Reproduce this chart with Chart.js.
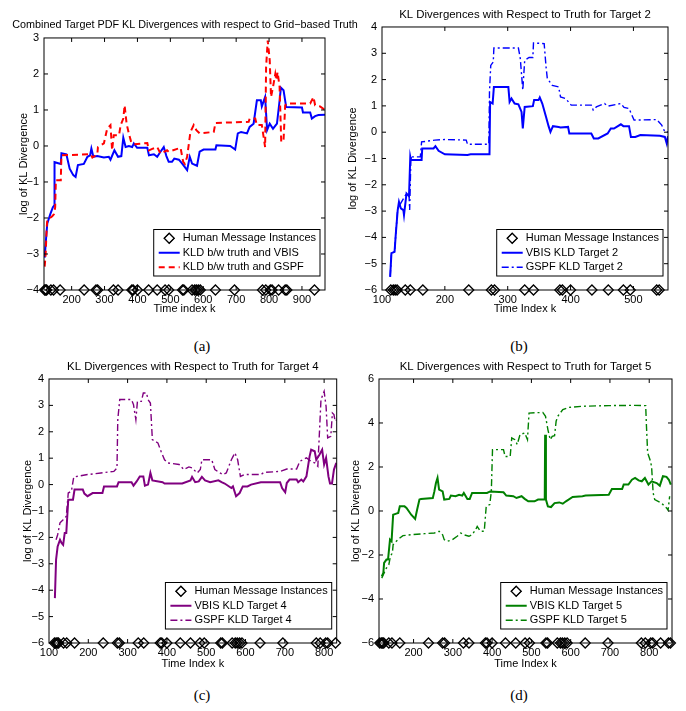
<!DOCTYPE html>
<html>
<head>
<meta charset="utf-8">
<script src="https://cdn.jsdelivr.net/npm/chart.js@4.4.1/dist/chart.umd.min.js"></script>
<style>
  body { margin: 0; background: #fff; }
  #page { position: relative; width: 686px; height: 711px; overflow: hidden; background: #fff; }
  #page canvas { position: absolute; }
  .cap { position: absolute; width: 40px; height: 18px; margin-left: -20px; margin-top: -9px; line-height: 18px; text-align: center; font-family: "Liberation Serif", "Times New Roman", serif; font-size: 15px; color: #000; }
</style>
</head>
<body>
<div id="page">
  <canvas id="chartA" width="370" height="320" style="left:0px;top:0px"></canvas>
  <canvas id="chartB" width="343" height="320" style="left:343px;top:0px"></canvas>
  <canvas id="chartC" width="343" height="320" style="left:0px;top:355px"></canvas>
  <canvas id="chartD" width="343" height="320" style="left:343px;top:355px"></canvas>
  <div class="cap" style="left:202px;top:346px">(a)</div>
  <div class="cap" style="left:519px;top:346px">(b)</div>
  <div class="cap" style="left:202px;top:695px">(c)</div>
  <div class="cap" style="left:519px;top:695px">(d)</div>
</div>
<script>
// times (k) at which a human message came in, shared by all four plots
const messageTimes = [114, 118, 121, 124, 137, 145, 165, 238, 274, 279, 327, 341, 383, 387, 400, 434, 460, 484, 495, 537, 541, 566, 574, 579, 585, 591, 637, 695, 780, 790, 804, 809, 829, 849, 854, 938];

// (a) combined target pdf
const vbisA_k = [118,122,126,136,143,147,148,167,169,184,194,205,212,219,237,248,256,260,266,278,298,313,318,330,341,351,357,364,374,384,389,399,430,435,450,460,470,480,488,495,505,512,526,536,551,559,566,581,589,601,637,640,682,697,705,715,733,741,753,763,775,778,788,794,802,812,824,831,836,844,852,900,903,925,930,940,950,970];
const vbisA_y = [-3.1,-2.6,-2.15,-1.87,-1.7,-1.65,-0.45,-0.5,-0.2,-0.23,-0.63,-0.81,-0.86,-0.53,-0.5,-0.3,-0.26,-0.07,-0.3,-0.28,-0.32,-0.3,-0.38,-0.12,-0.3,-0.28,0.23,-0.03,0.0,-0.03,0.07,-0.05,-0.05,-0.26,-0.23,-0.3,-0.16,-0.03,-0.28,-0.44,-0.44,-0.35,-0.38,-0.49,-0.67,-0.3,-0.49,-0.55,-0.16,-0.1,-0.1,0.02,0.0,-0.1,0.35,0.39,0.35,0.53,0.62,1.27,1.27,1.1,1.36,0.44,0.62,0.48,0.62,1.18,1.62,1.55,1.08,1.07,0.93,0.93,0.76,0.83,0.86,0.87];
const gspfA_k = [118,121,124,126,134,141,146,150,152,167,169,258,263,278,280,298,308,318,323,328,344,349,357,361,367,374,381,389,430,435,445,460,470,490,495,521,531,539,544,551,561,571,579,589,632,637,738,741,758,763,778,788,791,796,802,806,812,819,822,826,832,837,844,849,854,925,935,940,955,970];
const gspfA_y = [-3.35,-3.0,-2.3,-2.06,-2.0,-1.95,-1.9,-1.7,-0.95,-0.95,-0.26,-0.23,-0.32,-0.23,-0.03,0.07,0.48,0.58,-0.12,0.3,0.3,0.58,0.76,1.13,0.62,0.34,0.11,0.05,0.08,-0.12,-0.08,-0.03,-0.21,-0.12,-0.16,-0.08,-0.05,-0.44,-0.5,-0.3,0.39,0.58,0.44,0.35,0.39,0.64,0.67,0.76,0.76,0.58,0.58,-0.03,2.2,2.93,2.38,1.36,1.64,2.0,1.83,2.05,1.64,0.11,0.16,1.13,1.18,1.18,1.36,1.13,1.1,1.0];

// (b) target 2
const vbisB_k = [113,115,120,122,125,127,130,134,135,139,143,145,146,163,164,182,185,190,200,236,241,271,272,276,278,301,303,306,311,317,322,324,327,340,342,349,351,355,361,365,368,372,381,384,396,398,433,437,444,459,464,469,480,484,493,496,503,511,542,550,553,555];
const vbisB_y = [-5.5,-4.6,-4.55,-3.85,-2.96,-2.65,-2.9,-2.96,-3.15,-2.33,-2.43,-0.94,-1.06,-1.06,-0.62,-0.62,-0.53,-0.71,-0.84,-0.87,-0.84,-0.84,1.15,1.09,1.72,1.72,1.15,1.28,1.09,1.06,0.77,0.14,0.96,0.99,1.22,1.22,1.32,1.09,0.58,0.23,0.01,0.23,0.2,0.18,0.2,-0.05,-0.05,-0.24,-0.24,-0.05,0.14,0.14,0.3,0.23,0.23,-0.18,-0.18,-0.11,-0.14,-0.18,-0.43,-0.15];
const gspfB_k = [113,115,120,122,125,139,143,144,146,161,163,184,200,234,236,270,271,273,277,278,317,320,324,327,334,340,341,358,361,363,371,381,384,392,401,433,436,441,454,459,480,485,493,501,537,545,550,555];
const gspfB_y = [-5.5,-4.6,-4.55,-3.85,-2.9,-2.33,-2.4,-2.96,-0.94,-0.94,-0.37,-0.3,-0.28,-0.3,-0.46,-0.46,1.53,2.54,2.67,3.2,3.2,2.8,1.6,2.73,2.84,2.84,3.39,3.37,2.48,2.04,1.78,1.72,1.34,1.28,1.03,1.03,0.84,0.96,1.09,0.99,1.09,0.94,0.9,0.46,0.48,0.27,0.01,0.01];

// (c) target 4
const vbisC_k = [115,118,122,128,132,136,140,144,149,161,165,186,190,198,211,236,240,273,277,310,315,323,331,340,344,352,358,363,389,394,439,460,464,472,481,489,497,510,531,539,547,564,568,576,585,593,605,614,639,688,693,701,705,712,730,734,742,747,755,763,767,776,780,788,795,800,805,811,815,820,825,831];
const vbisC_y = [-4.3,-2.84,-2.34,-2.09,-2.21,-2.28,-1.83,-1.83,-0.57,-0.57,-0.19,-0.19,-0.34,-0.44,-0.32,-0.32,-0.07,-0.07,0.09,0.09,-0.04,0.12,0.31,0.31,-0.04,0.0,0.44,0.16,0.09,0.04,0.04,0.16,0.29,0.09,0.12,0.29,0.16,0.09,0.16,0.09,0.04,-0.13,-0.07,-0.44,-0.32,-0.07,-0.07,0.0,0.09,0.09,-0.13,-0.29,0.06,0.19,0.19,0.09,0.19,0.12,0.31,1.07,1.32,1.26,0.94,1.13,1.32,0.76,1.01,0.31,0.04,0.04,0.57,0.82];
const gspfC_k = [118,122,128,136,144,149,157,163,198,232,265,273,275,280,310,315,321,325,335,340,348,352,358,363,377,385,394,402,431,443,456,464,477,485,489,514,522,535,543,551,564,573,580,587,597,639,647,688,705,730,738,755,767,776,784,792,800,805,809,817,821,825,828,832];
const gspfC_y = [-2.09,-1.9,-1.45,-1.33,-1.2,-0.32,-0.25,0.29,0.38,0.44,0.5,0.63,2.46,3.22,3.22,3.03,2.46,3.15,3.15,3.47,3.47,3.22,3.09,1.7,1.58,1.26,0.94,0.82,0.76,0.57,0.67,0.63,0.44,0.57,0.94,0.94,0.57,0.44,0.38,0.44,0.94,1.2,0.94,0.31,0.38,0.38,0.46,0.5,0.59,0.59,0.88,1.01,0.88,0.82,0.69,3.22,3.53,2.96,1.77,1.83,2.71,2.65,2.4,2.46];

// (d) target 5
const vbisD_k = [119,123,125,131,135,140,144,148,156,161,165,177,182,194,204,209,215,219,249,253,257,261,265,274,278,291,295,307,316,324,328,337,343,349,387,395,429,436,454,462,475,483,492,508,517,534,535,537,542,550,559,571,580,588,605,630,638,697,705,731,735,747,756,764,773,781,789,798,806,819,827,835,844,850,855];
const vbisD_y = [-2.97,-2.82,-2.36,-2.21,-2.21,-1.3,-1.38,-0.17,-0.12,-0.09,0.21,0.21,0.14,-0.17,-0.36,0.06,0.52,0.55,0.59,0.89,1.27,1.5,0.97,0.89,0.52,0.55,0.7,0.67,0.74,0.7,0.82,0.55,0.55,0.82,0.82,0.89,0.85,0.7,0.67,0.59,0.67,0.55,0.44,0.44,0.52,0.52,3.47,0.52,0.21,0.18,0.36,0.39,0.33,0.44,0.64,0.67,0.7,0.74,1.0,1.0,1.2,1.2,1.42,1.5,1.39,1.35,1.5,1.2,1.35,1.27,1.15,1.58,1.55,1.42,1.2];
const gspfD_k = [119,125,131,137,141,146,148,156,165,173,194,228,253,265,274,278,286,299,311,320,328,341,349,358,362,370,380,385,394,398,401,429,433,446,450,458,464,471,483,490,494,529,536,542,548,553,559,563,567,580,596,630,697,756,791,793,796,802,806,810,814,831,844,848,852];
const gspfD_y = [-3.05,-2.82,-2.59,-2.44,-2.06,-1.91,-1.53,-1.38,-1.23,-1.12,-1.08,-1.03,-1.0,-0.92,-1.08,-1.3,-1.38,-1.3,-1.15,-1.0,-1.08,-1.15,-1.08,-0.85,-0.7,-0.92,-0.92,0.21,0.29,0.89,2.79,2.79,2.48,2.48,3.32,3.24,3.02,3.47,3.55,3.24,4.45,4.48,4.3,3.7,3.24,3.39,3.42,4.08,4.3,4.61,4.71,4.76,4.79,4.8,4.79,3.85,2.64,2.33,2.03,0.82,0.52,0.36,0.14,0.03,0.67];

// tick labels
const xTicksA = [200, 300, 400, 500, 600, 700, 800, 900];
const yTicksA = [-4, -3, -2, -1, 0, 1, 2, 3];
const xTicksB = [100, 200, 300, 400, 500];
const yTicksB = [-6, -5, -4, -3, -2, -1, 0, 1, 2, 3, 4];
const xTicksC = [100, 200, 300, 400, 500, 600, 700, 800];
const yTicksC = [-6, -5, -4, -3, -2, -1, 0, 1, 2, 3, 4];
const xTicksD = [200, 300, 400, 500, 600, 700, 800];
const yTicksD = [-6, -4, -2, 0, 2, 4, 6];

const FONT = '"Liberation Sans", Arial, Helvetica, sans-serif';
Chart.defaults.font.family = FONT;
Chart.defaults.color = '#000';

const minusSign = v => String(v).replace('-', '\u2212');
const pts = (ks, ys) => ks.map((k, i) => ({ x: k, y: ys[i] }));

// matlab style box with inward ticks on all four sides
const frameTicks = {
    id: 'frameTicks',
    afterDatasetsDraw(chart) {
        const ctx = chart.ctx;
        const a = chart.chartArea;
        const xs = chart.scales.x, ys = chart.scales.y;
        const len = 4;
        ctx.save();
        ctx.strokeStyle = '#000';
        ctx.lineWidth = 1;
        ctx.beginPath();
        xs.ticks.forEach(t => {
            const px = xs.getPixelForValue(t.value);
            if (px <= a.left + 1 || px >= a.right - 1) return;
            ctx.moveTo(px, a.bottom); ctx.lineTo(px, a.bottom - len);
            ctx.moveTo(px, a.top); ctx.lineTo(px, a.top + len);
        });
        ys.ticks.forEach(t => {
            const py = ys.getPixelForValue(t.value);
            if (py <= a.top + 1 || py >= a.bottom - 1) return;
            ctx.moveTo(a.left, py); ctx.lineTo(a.left + len, py);
            ctx.moveTo(a.right, py); ctx.lineTo(a.right - len, py);
        });
        ctx.stroke();
        ctx.strokeRect(a.left, a.top, a.right - a.left, a.bottom - a.top);
        ctx.restore();
    }
};

// boxed legend in the lower right corner of the axes
const boxLegend = {
    id: 'boxLegend',
    afterDraw(chart, args, opts) {
        const ctx = chart.ctx;
        const a = chart.chartArea;
        const items = chart.data.datasets;
        ctx.save();
        ctx.font = '11px ' + FONT;
        const textW = Math.max(...items.map(d => ctx.measureText(d.label).width));
        const pad = 5, sample = 21, gap = 3, rowH = 14.5;
        const w = pad + sample + gap + textW + 4;
        const h = rowH * items.length + 3;
        const x = a.right - opts.right - w;
        const y = a.bottom - opts.bottom - h;
        ctx.fillStyle = '#fff';
        ctx.fillRect(x, y, w, h);
        ctx.strokeStyle = '#000';
        ctx.lineWidth = 1;
        ctx.strokeRect(x, y, w, h);
        items.forEach((d, i) => {
            const cy = y + 1.5 + rowH * (i + 0.5);
            if (d.showLine === false) {
                Chart.helpers.drawPoint(ctx, {
                    pointStyle: 'rectRot', radius: 5, borderWidth: 1.3
                }, x + pad + sample / 2, cy);
                ctx.strokeStyle = '#000';
                ctx.lineWidth = 1.3;
                ctx.stroke();
            } else {
                ctx.beginPath();
                ctx.setLineDash(d.borderDash || []);
                ctx.strokeStyle = d.borderColor;
                ctx.lineWidth = d.borderWidth;
                ctx.moveTo(x + pad, cy);
                ctx.lineTo(x + pad + sample, cy);
                ctx.stroke();
                ctx.setLineDash([]);
            }
            ctx.fillStyle = '#000';
            ctx.textBaseline = 'middle';
            ctx.fillText(d.label, x + pad + sample + gap, cy);
        });
        ctx.restore();
    }
};

function makePanel(p) {
    const marks = messageTimes
        .filter(k => k >= p.xMin && k <= p.xMax)
        .map(k => ({ x: k, y: p.yTicks[0] }));

    new Chart(document.getElementById(p.id), {
        type: 'scatter',
        data: {
            datasets: [{
                label: 'Human Message Instances',
                data: marks,
                showLine: false,
                pointStyle: 'rectRot',
                pointRadius: 5,
                pointBorderWidth: 1.3,
                pointBorderColor: '#000',
                pointBackgroundColor: 'rgba(0,0,0,0)',
                clip: false,
                order: 0
            }, {
                label: p.vbisLabel,
                data: pts(p.vbisK, p.vbisY),
                showLine: true,
                borderColor: p.vbisColor,
                borderWidth: 2,
                pointRadius: 0,
                order: 2
            }, {
                label: p.gspfLabel,
                data: pts(p.gspfK, p.gspfY),
                showLine: true,
                borderColor: p.gspfColor,
                borderWidth: p.gspfWidth,
                borderDash: p.gspfDash,
                pointRadius: 0,
                order: 1
            }]
        },
        options: {
            responsive: false,
            animation: false,
            events: [],
            layout: { padding: { left: 0, right: p.titleFull ? 0 : p.padRight, top: 0, bottom: 0 } },
            elements: { line: { tension: 0 } },
            plugins: {
                legend: { display: false },
                tooltip: { enabled: false },
                title: {
                    display: true,
                    text: p.title,
                    fullSize: !!p.titleFull,
                    color: '#000',
                    font: { size: p.titleSize, weight: 'normal' },
                    padding: p.titlePad
                },
                boxLegend: { right: 5, bottom: 14 }
            },
            scales: {
                x: {
                    type: 'linear',
                    min: p.xMin,
                    max: p.xMax,
                    afterBuildTicks: s => { s.ticks = p.xTicks.map(v => ({ value: v })); },
                    afterFit: s => { s.height = p.xAxisH; },
                    grid: { display: false, drawTicks: false },
                    border: { display: false },
                    ticks: { padding: 3, maxRotation: 0, autoSkip: false, font: { size: 11 }, color: '#000' },
                    title: {
                        display: true, text: p.xLabel, color: '#000',
                        font: { size: 11 }, padding: { top: 0, bottom: 4 }
                    }
                },
                y: {
                    type: 'linear',
                    min: p.yTicks[0],
                    max: p.yTicks[p.yTicks.length - 1],
                    afterBuildTicks: s => { s.ticks = p.yTicks.map(v => ({ value: v })); },
                    afterFit: s => { s.width = p.yAxisW; },
                    grid: { display: false, drawTicks: false },
                    border: { display: false },
                    ticks: { padding: 5, autoSkip: false, font: { size: 11 }, color: '#000', callback: minusSign },
                    title: {
                        display: true, text: 'log of KL Divergence', color: '#000',
                        font: { size: 11 }, padding: { top: p.yTitlePad, bottom: 0 }
                    }
                },
                // empty right-hand axis, only reserves the gap right of the plot in (a)
                yRight: {
                    type: 'linear',
                    position: 'right',
                    display: !!p.titleFull,
                    afterFit: s => { s.width = p.titleFull ? p.padRight : 0; },
                    grid: { display: false, drawTicks: false },
                    border: { display: false },
                    ticks: { display: false }
                }
            }
        },
        plugins: [frameTicks, boxLegend]
    });
}

makePanel({
    id: 'chartA',
    title: 'Combined Target PDF KL Divergences with respect to Grid\u2212based Truth',
    titleFull: true, titleSize: 10.8,
    titlePad: { top: 18.5, bottom: 6.5 },
    xLabel: 'Time index k',
    xMin: 116, xMax: 970, xTicks: xTicksA, yTicks: yTicksA,
    yAxisW: 44, yTitlePad: 17.4, xAxisH: 30, padRight: 45,
    vbisLabel: 'KLD b/w truth and VBIS', vbisK: vbisA_k, vbisY: vbisA_y, vbisColor: '#0000ff',
    gspfLabel: 'KLD b/w truth and GSPF', gspfK: gspfA_k, gspfY: gspfA_y, gspfColor: '#ff0000',
    gspfWidth: 2, gspfDash: [6, 4]
});

makePanel({
    id: 'chartB',
    title: 'KL Divergences with Respect to Truth for Target 2',
    titleSize: 11.4,
    titlePad: { top: 8.2, bottom: 5.1 },
    xLabel: 'Time Index k',
    xMin: 100, xMax: 555, xTicks: xTicksB, yTicks: yTicksB,
    yAxisW: 39, yTitlePad: 3.4, xAxisH: 30, padRight: 18,
    vbisLabel: 'VBIS KLD Target 2', vbisK: vbisB_k, vbisY: vbisB_y, vbisColor: '#0000ff',
    gspfLabel: 'GSPF KLD Target 2', gspfK: gspfB_k, gspfY: gspfB_y, gspfColor: '#0000ff',
    gspfWidth: 1.4, gspfDash: [7, 3, 2, 3]
});

makePanel({
    id: 'chartC',
    title: 'KL Divergences with Respect to Truth for Target 4',
    titleSize: 11.4,
    titlePad: { top: 5.2, bottom: 5.1 },
    xLabel: 'Time Index k',
    xMin: 100, xMax: 832, xTicks: xTicksC, yTicks: yTicksC,
    yAxisW: 49, yTitlePad: 21.4, xAxisH: 32, padRight: 1,
    vbisLabel: 'VBIS KLD Target 4', vbisK: vbisC_k, vbisY: vbisC_y, vbisColor: '#800080',
    gspfLabel: 'GSPF KLD Target 4', gspfK: gspfC_k, gspfY: gspfC_y, gspfColor: '#800080',
    gspfWidth: 1.4, gspfDash: [7, 3, 2, 3]
});

makePanel({
    id: 'chartD',
    title: 'KL Divergences with Respect to Truth for Target 5',
    titleSize: 11.4,
    titlePad: { top: 5.2, bottom: 5.1 },
    xLabel: 'Time Index k',
    xMin: 112, xMax: 858, xTicks: xTicksD, yTicks: yTicksD,
    yAxisW: 36, yTitlePad: 6.4, xAxisH: 32, padRight: 14,
    vbisLabel: 'VBIS KLD Target 5', vbisK: vbisD_k, vbisY: vbisD_y, vbisColor: '#008000',
    gspfLabel: 'GSPF KLD Target 5', gspfK: gspfD_k, gspfY: gspfD_y, gspfColor: '#008000',
    gspfWidth: 1.4, gspfDash: [7, 3, 2, 3]
});
</script>
</body>
</html>
